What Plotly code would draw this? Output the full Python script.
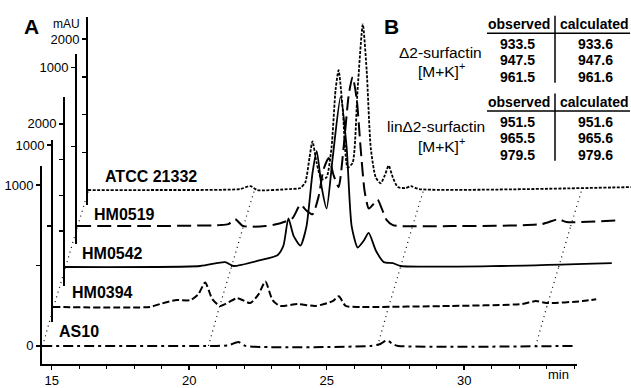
import plotly.graph_objects as go

# ---------------- data: retention time (min) and absorbance (mAU) ----------------
names = ["AS10", "HM0394", "HM0542", "HM0519", "ATCC 21332"]

as10_t = [14.65, 21.0, 21.42, 21.79, 22.04, 26.6, 26.95, 27.19, 27.4, 27.6, 33.96]
as10_y = [0, 0, 3, 24, 0, 0, 12, 36, 12, 0, 0]

hm0394_t = [14.65, 18.18, 18.54, 19.09, 19.64, 19.93, 20.18, 20.44, 20.73, 21.35, 21.82,
            22.12, 22.37, 22.63, 22.9, 23.54, 24.2, 24.82, 25.04, 25.29, 25.84, 29.12,
            31.68, 32.2, 32.6, 33.9, 34.4]
hm0394_y = [0, 0, 18, 42, 42, 78, 151, 48, 6, 54, 24,
            78, 157, 42, 6, 18, 6, 36, 66, 6, 0, 6,
            18, 36, 24, 36, 48]

hm0542_t = [14.65, 19.56, 20.47, 20.77, 21.75, 22.37, 22.59, 22.77, 22.96, 23.21, 23.43,
            23.65, 23.8, 23.98, 24.16, 24.38, 24.67, 24.89, 25.07, 25.29, 25.51, 25.69,
            25.95, 26.24, 26.57, 26.86, 30.5, 34.53]
hm0542_y = [0, 14, 68, 14, 95, 163, 299, 680, 435, 299, 571,
            1320, 1619, 1116, 816, 1524, 2380, 1660, 571, 272, 367, 476,
            231, 68, 54, 14, 14, 54]

hm0519_t = [14.65, 17.3, 19.85, 20.15, 20.4, 20.69, 21.5, 22.04, 22.48, 22.77, 22.99,
            23.21, 23.43, 23.61, 23.8, 23.98, 24.16, 24.34, 24.53, 24.67, 24.82, 24.96,
            25.11, 25.26, 25.44, 25.58, 25.73, 25.91, 26.13, 28.25, 31.53, 32.15, 32.45, 34.34]
hm0519_y = [0, 0, 6, 12, 43, 0, 0, 18, 49, 135, 98,
            74, 184, 356, 429, 319, 245, 491, 828, 939, 798, 491,
            215, 110, 141, 166, 110, 37, 6, 0, 12, 43, 25, 37]

atcc_t = [14.65, 16.9, 20.18, 20.55, 20.8, 22.0, 22.37, 22.55, 22.7, 22.81, 22.96,
          23.14, 23.32, 23.5, 23.65, 23.76, 23.91, 24.09, 24.27, 24.45, 24.64, 24.78,
          24.93, 25.11, 25.29, 25.44, 25.58, 25.73, 25.91, 26.2, 26.39, 26.68, 34.4]
atcc_y = [0, 0, 13, 52, 0, 13, 26, 103, 426, 645, 361,
          142, 168, 555, 1329, 1587, 1071, 297, 361, 1329, 2194, 1587,
          555, 168, 90, 194, 323, 168, 39, 26, 52, 13, 39]

series_t = [as10_t, hm0394_t, hm0542_t, hm0519_t, atcc_t]
series_y = [as10_y, hm0394_y, hm0542_y, hm0519_y, atcc_y]

# retention times joined by the dotted perspective guides
guide_t = [14.67, 20.7, 26.85, 32.6]

# per-trace axis ticks: labelled ticks and unlabelled ticks
label_vals = [[0, 1000], [1000], [2000], [1000], [2000]]
plain_vals = [[500], [500], [500, 1000, 1500], [500], [500, 1000, 1500]]

x_ticks = [15, 20, 25, 30]

table_obs_1 = ["933.5", "947.5", "961.5"]
table_calc_1 = ["933.6", "947.6", "961.6"]
table_obs_2 = ["951.5", "965.5", "979.5"]
table_calc_2 = ["951.6", "965.6", "979.6"]

# ---------------- layout (pixel geometry of the stacked offset plot) ----------------
W, H = 631, 388
PX_PER_MIN = 27.5
T_AX = 14.647
AX_X = [42, 53, 65, 77, 88]          # x pixel of each trace's own y axis
BASE = [353, 313, 272, 230, 193]     # y pixel of each trace's 0 mAU
PX_PER_MAU = [0.165, 0.166, 0.0735, 0.163, 0.0775]
AX_TOP = [168, 142, 97, 53, 15]
AX_BOT = [372, 328, 292, 248, 208]
X_END = 577

FONT = "Liberation Sans, Arial, sans-serif"
styles = [
    dict(dash="10px,4px,3px,4px", width=2),
    dict(dash="7px,3px", width=2),
    dict(dash="solid", width=1.8),
    dict(dash="14px,6px", width=2),
    dict(dash="3px,1.5px", width=1.8),
]

fig = go.Figure()
layout = {}
for k in range(5):
    sfx = "" if k == 0 else str(k + 1)
    xa, ya = "x" + sfx, "y" + sfx
    fig.add_trace(go.Scatter(
        x=series_t[k], y=series_y[k], mode="lines", name=names[k],
        line=dict(color="black", shape="spline", smoothing=0.6, **styles[k]),
        xaxis=xa, yaxis=ya, showlegend=False, hoverinfo="skip"))
    # dotted perspective guides towards the next trace
    if k < 4:
        dt = (AX_X[k + 1] - AX_X[k]) / PX_PER_MIN
        dy = (BASE[k] - BASE[k + 1]) / PX_PER_MAU[k]
        gx, gy = [], []
        for t in guide_t:
            gx += [t, t + dt, None]
            gy += [0, dy, None]
        fig.add_trace(go.Scatter(
            x=gx, y=gy, mode="lines", xaxis=xa, yaxis=ya, showlegend=False,
            hoverinfo="skip", line=dict(color="black", width=1.2, dash="1px,4px")))

    x_right = X_END if k == 0 else W
    xdom = [AX_X[k] / W, x_right / W]
    xr = [T_AX, T_AX + (x_right - AX_X[k]) / PX_PER_MIN]
    ydom = [1 - AX_BOT[k] / H, 1 - AX_TOP[k] / H]
    yr = [(BASE[k] - AX_BOT[k]) / PX_PER_MAU[k], (BASE[k] - AX_TOP[k]) / PX_PER_MAU[k]]

    if k == 0:
        layout["xaxis"] = dict(
            domain=xdom, range=xr, anchor="y", showline=True, linecolor="black", linewidth=2,
            ticks="outside", ticklen=4, tickwidth=1.5, tickcolor="black",
            tickvals=x_ticks, showgrid=False, zeroline=False, ticklabelstandoff=-1,
            tickfont=dict(family=FONT, size=13, color="black"),
            minor=dict(dtick=1, tick0=15, ticks="outside", ticklen=3, tickwidth=1,
                       tickcolor="black", showgrid=False))
    else:
        layout["xaxis" + sfx] = dict(domain=xdom, range=xr, anchor=ya, visible=False)
    layout["yaxis" + sfx] = dict(
        domain=ydom, range=yr, anchor=xa, showline=True, linecolor="black", linewidth=2,
        ticks="outside", ticklen=4, tickwidth=1.5, tickcolor="black",
        tickvals=label_vals[k], showgrid=False, zeroline=False,
        tickfont=dict(family=FONT, size=13, color="black"),
        minor=dict(tickvals=plain_vals[k], ticks="outside", ticklen=4, tickwidth=1.5,
                   tickcolor="black", showgrid=False))

fig.update_layout(**layout)

# ---------------- annotations ----------------
def P(px, py):
    return px / W, 1 - py / H

ann = []
def text(px, py, s, size=13, bold=False, xanchor="center"):
    x, y = P(px, py)
    ann.append(dict(x=x, y=y, xref="paper", yref="paper", text=("<b>%s</b>" % s) if bold else s,
                    showarrow=False, xanchor=xanchor, yanchor="middle",
                    font=dict(family=FONT, size=size, color="black")))

label_left = [57, 70, 80, 92, 103]
label_y = [338, 298, 258, 218, 179]
for k in range(5):
    text(label_left[k], label_y[k], names[k], size=16, bold=True, xanchor="left")

text(22, 25, "A", size=21, bold=True, xanchor="left")
text(382, 25, "B", size=21, bold=True, xanchor="left")
text(82, 23, "mAU", size=12, xanchor="right")
text(558, 382, "min", size=13)

text(440, 52, "Δ2-surfactin", size=15.5)
text(441, 70, "[M+K]<sup>+</sup>", size=15.5)
text(436, 128, "linΔ2-surfactin", size=15.5)
text(441, 147, "[M+K]<sup>+</sup>", size=15.5)

shapes = []
def hline(x0, x1, py):
    a0, b = P(x0, py)
    a1, _ = P(x1, py)
    shapes.append(dict(type="line", xref="paper", yref="paper", x0=a0, x1=a1, y0=b, y1=b,
                       line=dict(color="black", width=1.5)))
def vline(px, y0, y1):
    a, b0 = P(px, y0)
    _, b1 = P(px, y1)
    shapes.append(dict(type="line", xref="paper", yref="paper", x0=a, x1=a, y0=b0, y1=b1,
                       line=dict(color="black", width=1.5)))

for (hy, rows_y, obs, calc) in [(23, [43, 60, 77], table_obs_1, table_calc_1),
                                (103, [123, 140, 157], table_obs_2, table_calc_2)]:
    text(519, hy, "observed", size=14, bold=True)
    text(594, hy, "calculated", size=14, bold=True)
    hline(487, 630, hy + 9)
    vline(555, hy - 9, rows_y[-1] + 6)
    for ry, o, c in zip(rows_y, obs, calc):
        text(517, ry, o, size=14, bold=True)
        text(595, ry, c, size=14, bold=True)

fig.update_layout(
    width=W, height=H, margin=dict(l=0, r=0, t=0, b=0),
    paper_bgcolor="white", plot_bgcolor="rgba(0,0,0,0)",
    annotations=ann, shapes=shapes, showlegend=False,
    font=dict(family=FONT, color="black"))

fig.write_html("out.html", config={"displayModeBar": False, "staticPlot": True},
               post_script="document.body.style.margin='0px';")
